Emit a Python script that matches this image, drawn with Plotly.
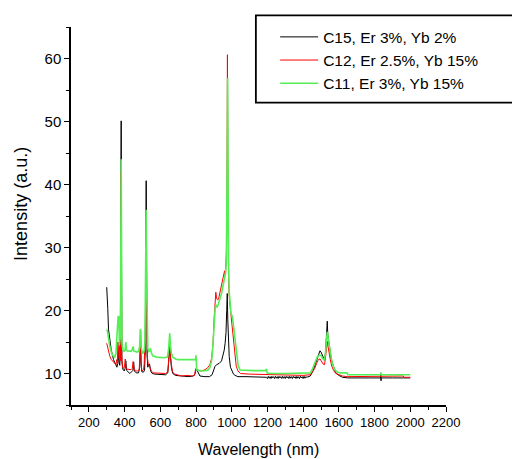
import plotly.graph_objects as go

# ---------------- data ----------------
series_names = ["C15, Er 3%, Yb 2%", "C12, Er 2.5%, Yb 15%", "C11, Er 3%, Yb 15%"]
series_colors = ["#000000", "#ff0000", "#55ee55"]

c15_nm = [300, 302, 306, 310, 316, 325, 338, 350, 357, 362, 366, 369, 373, 376, 379, 381, 383, 385,
          390, 398, 403, 407, 411, 420, 430, 440, 447, 451, 455, 465, 478, 485, 489, 492, 496, 505,
          512, 516, 519, 521, 523, 526, 530, 535, 540, 546, 555, 570, 600, 630, 642, 648, 653, 657,
          662, 670, 685, 720, 760, 785, 795, 801, 808, 822, 850, 875, 890, 900, 906, 915, 930, 943,
          951, 958, 963, 968, 972, 975, 978, 981, 986, 993, 1001, 1010, 1019, 1035, 1080, 1140,
          1195, 1200, 1205, 1210, 1215, 1220, 1225, 1230, 1235, 1240, 1245, 1250, 1255, 1260, 1265,
          1270, 1275, 1280, 1285, 1290, 1295, 1300, 1305, 1310, 1315, 1320, 1325, 1330, 1335, 1340,
          1345, 1350, 1355, 1360, 1365, 1370, 1375, 1380, 1385, 1390, 1395, 1400, 1405, 1410, 1415,
          1420, 1440, 1455, 1465, 1475, 1485, 1494, 1500, 1508, 1515, 1520, 1526, 1531,
          1535, 1538, 1543, 1550, 1557, 1564, 1573, 1583, 1600, 1620, 1650, 1700, 1800, 1834, 1835,
          1836, 1837, 1900, 2000]
c15_int = [23.7, 21.0, 20.3, 17.0, 15.3, 13.8, 12.2, 11.3, 11.0, 11.6, 13.5, 11.8, 11.3, 13.0, 30.0,
           50.1, 28.0, 12.0, 10.7, 10.4, 10.8, 12.0, 10.5, 10.3, 10.0, 10.3, 10.5, 11.8, 10.4, 10.1,
           10.1, 11.0, 15.6, 12.0, 10.3, 10.2, 10.5, 14.0, 30.0, 40.6, 30.0, 13.0, 11.0, 11.4, 11.5,
           10.4, 10.0, 9.9, 9.8, 9.8, 10.1, 12.5, 14.2, 12.8, 11.0, 10.0, 9.7, 9.6, 9.5, 9.6, 10.0,
           10.8, 10.3, 9.6, 9.5, 9.5, 9.8, 10.6, 11.1, 11.4, 11.6, 12.0, 12.7, 13.7, 14.8, 16.5, 20.0,
           22.7, 18.5, 15.9, 12.7, 11.0, 10.4, 9.9, 9.7, 9.5, 9.5, 9.4,
           9.4, 9.2, 9.55, 9.25, 9.5, 9.2, 9.55, 9.3, 9.5, 9.2, 9.55, 9.25, 9.5, 9.2, 9.55,
           9.3, 9.5, 9.2, 9.55, 9.25, 9.5, 9.2, 9.55, 9.3, 9.5, 9.2, 9.55, 9.25, 9.5, 9.2,
           9.55, 9.3, 9.5, 9.2, 9.55, 9.25, 9.5, 9.2, 9.55, 9.3, 9.5, 9.2, 9.55, 9.25, 9.5,
           9.4, 9.6, 10.4, 11.2, 12.3, 13.1, 13.6, 13.4, 12.8, 12.2, 12.1, 13.5, 16.5,
           18.3, 16.2, 15.0, 13.6, 12.3, 11.6, 10.7, 10.1, 9.7, 9.4, 9.3, 9.3, 9.3, 9.3, 10.0,
           8.85, 9.3, 9.3, 9.3]

c12_nm = [300, 304, 310, 318, 326, 335, 345, 352, 356, 360, 363, 366, 369, 372, 375, 378, 380, 382,
          384, 388, 394, 400, 404, 407, 412, 425, 436, 443, 448, 452, 460, 472, 482, 487, 490, 493,
          497, 506, 510, 513, 516, 519, 521, 523, 525, 528, 532, 538, 544, 550, 560, 600, 630, 642,
          648, 653, 657, 662, 668, 680, 700, 720, 750, 780, 792, 797, 803, 812, 830, 850, 865, 878,
          888, 896, 902, 907, 911, 915, 920, 926, 932, 940, 946, 953, 960, 964, 967, 970, 973, 975,
          976, 978, 980, 983, 988, 994, 1000, 1006, 1012, 1018, 1025, 1035, 1050, 1100, 1200, 1300,
          1400, 1440, 1455, 1465, 1475, 1485, 1495, 1505, 1512, 1520, 1527, 1533, 1536, 1540, 1545,
          1552, 1560, 1570, 1583, 1600, 1620, 1650, 1700, 1800, 1900, 1960, 1965, 2000]
c12_int = [14.8, 14.3, 13.8, 12.7, 12.2, 11.9, 11.5, 11.4, 12.2, 12.0, 15.0, 12.5, 12.4, 14.3, 14.5,
           12.0, 42.0, 38.0, 13.0, 11.0, 10.8, 11.2, 12.3, 11.0, 10.7, 10.6, 10.6, 10.8, 11.9, 10.8,
           10.4, 10.4, 10.6, 13.5, 14.5, 11.5, 10.4, 10.6, 11.5, 15.0, 13.0, 28.0, 32.0, 22.0, 14.8,
           12.5, 11.6, 11.2, 11.0, 10.4, 10.1, 10.0, 10.0, 10.3, 12.8, 14.3, 12.6, 11.2, 10.3, 9.9,
           9.8, 9.6, 9.7, 9.6, 9.7, 10.6, 10.8, 10.5, 10.4, 10.6, 10.9, 11.4, 12.5, 15.0, 19.0, 21.0,
           22.9, 22.0, 21.7, 21.8, 22.6, 23.5, 24.3, 25.0, 26.3, 25.5, 26.8, 29.0, 33.0, 45.0, 60.6,
           45.0, 30.0, 24.0, 21.5, 19.8, 18.0, 16.3, 14.5, 12.8, 11.2, 10.4, 10.0, 9.9, 9.8, 9.7,
           9.7, 9.8, 10.3, 10.8, 11.6, 12.2, 12.3, 11.9, 11.5, 11.4, 12.8, 14.6, 15.1, 14.2, 13.2,
           12.2, 11.2, 10.5, 10.0, 9.8, 9.6, 9.5, 9.5, 9.5, 9.5, 9.6, 9.4, 9.4]

c11_nm = [300, 303, 307, 312, 318, 326, 333, 345, 352, 356, 360, 364, 368, 371, 374, 377, 379, 381,
          383, 385, 390, 397, 403, 407, 411, 418, 428, 436, 443, 448, 452, 460, 470, 478, 484, 488,
          491, 494, 500, 506, 511, 514, 518, 521, 523, 526, 530, 536, 541, 545, 550, 558, 580, 620,
          640, 647, 653, 657, 662, 670, 685, 700, 750, 798, 800, 802, 804, 815, 840, 860, 870, 880,
          888, 893, 899, 904, 908, 913, 918, 925, 935, 944, 954, 962, 966, 970, 973, 975, 977, 979,
          982, 986, 991, 996, 1004, 1010, 1015, 1021, 1028, 1036, 1047, 1070, 1120, 1187, 1190,
          1195, 1198, 1210, 1300, 1400, 1440, 1452, 1462, 1472, 1480, 1490, 1499, 1508, 1518, 1525,
          1530, 1535, 1539, 1545, 1551, 1558, 1564, 1572, 1583, 1595, 1610, 1645, 1650, 1700, 1834,
          1836, 1838, 1900, 2000]
c11_int = [17.0, 16.8, 16.2, 15.0, 14.2, 13.4, 12.9, 12.6, 13.2, 15.5, 18.5, 19.0, 19.1, 14.5, 15.2,
           16.0, 30.0, 44.0, 30.0, 15.0, 13.8, 13.5, 13.7, 15.0, 13.7, 13.5, 13.6, 13.5, 13.8, 14.3,
           13.6, 13.5, 13.4, 13.5, 14.2, 17.0, 16.8, 14.0, 13.2, 13.3, 13.8, 15.0, 25.0, 36.0, 26.0,
           16.0, 14.0, 13.5, 13.6, 14.0, 13.3, 12.8, 12.6, 12.5, 12.6, 14.0, 16.4, 14.5, 13.2, 12.6,
           12.3, 12.2, 12.2, 12.2, 12.9, 12.3, 10.6, 10.5, 10.4, 10.5, 10.6, 11.1, 12.2, 13.7, 16.5,
           18.5, 20.6, 20.8, 20.5, 21.0, 21.9, 22.8, 24.3, 25.3, 26.0, 28.0, 34.0, 45.0, 56.9, 42.0,
           28.0, 23.0, 20.5, 19.5, 19.0, 17.5, 16.4, 14.5, 12.7, 11.3, 10.55, 10.5, 10.45, 10.45,
           10.6, 10.7, 10.1, 10.0, 10.0, 10.0, 10.1, 10.7, 11.4, 12.1, 12.7, 12.9, 12.9, 12.4, 12.1,
           13.2, 15.0, 16.6, 15.8, 14.5, 13.5, 12.4, 11.6, 10.9, 10.4, 10.2, 10.1, 10.1, 9.8, 9.8,
           9.8, 10.2, 9.8, 9.8, 9.8]

x_ticks = [200, 400, 600, 800, 1000, 1200, 1400, 1600, 1800, 2000, 2200]
y_ticks = [10, 20, 30, 40, 50, 60]

# ---------------- figure ----------------
FONT = "Liberation Sans, Arial, sans-serif"
fig = go.Figure()
xs = [c15_nm, c12_nm, c11_nm]
ys = [c15_int, c12_int, c11_int]
widths = [1.0, 1.0, 1.6]
for name, color, x, y, w in zip(series_names, series_colors, xs, ys, widths):
    fig.add_trace(go.Scatter(x=x, y=y, mode="lines", name=name,
                             line=dict(color=color, width=w)))

fig.update_layout(
    width=512, height=459,
    margin=dict(l=71, r=66, t=27, b=54, autoexpand=False),
    paper_bgcolor="white", plot_bgcolor="white",
    font=dict(family=FONT, color="black"),
    showlegend=True,
    legend=dict(x=0.5444, y=1.0177, xanchor="left", yanchor="top",
                bgcolor="rgba(0,0,0,0)", borderwidth=0,
                font=dict(size=15.5, family=FONT), itemwidth=38,
                tracegroupgap=0),
    shapes=[dict(type="rect", xref="paper", yref="paper",
                 x0=0.493, x1=1.19, y0=0.800, y1=1.031,
                 line=dict(color="black", width=1.8))],
    annotations=[
        dict(text="Wavelength (nm)", xref="paper", yref="paper", x=0.5, y=-0.119,
             xanchor="center", yanchor="middle", showarrow=False,
             font=dict(size=16, family=FONT)),
        dict(text="Intensity (a.u.)", xref="paper", yref="paper", x=-0.135, y=0.533,
             xanchor="center", yanchor="middle", showarrow=False, textangle=-90,
             font=dict(size=18, family=FONT)),
    ],
)
fig.update_xaxes(range=[100, 2200], tickmode="array", tickvals=x_ticks,
                 ticktext=[str(v) for v in x_ticks],
                 showline=True, linecolor="black", linewidth=1.5, mirror=False,
                 ticks="outside", ticklen=5, tickwidth=1, tickcolor="black",
                 minor=dict(tickmode="linear", tick0=100, dtick=100, ticks="outside",
                            ticklen=3, tickwidth=1, tickcolor="black", showgrid=False),
                 showgrid=False, zeroline=False, tickfont=dict(size=13, family=FONT))
fig.update_yaxes(range=[5, 65], tickmode="array", tickvals=y_ticks,
                 ticktext=[str(v) for v in y_ticks],
                 showline=True, linecolor="black", linewidth=1.5, mirror=False,
                 ticks="outside", ticklen=5, tickwidth=1, tickcolor="black",
                 minor=dict(tickmode="linear", tick0=5, dtick=5, ticks="outside",
                            ticklen=3, tickwidth=1, tickcolor="black", showgrid=False),
                 showgrid=False, zeroline=False, tickfont=dict(size=15, family=FONT))

fig.write_html("out.html")
